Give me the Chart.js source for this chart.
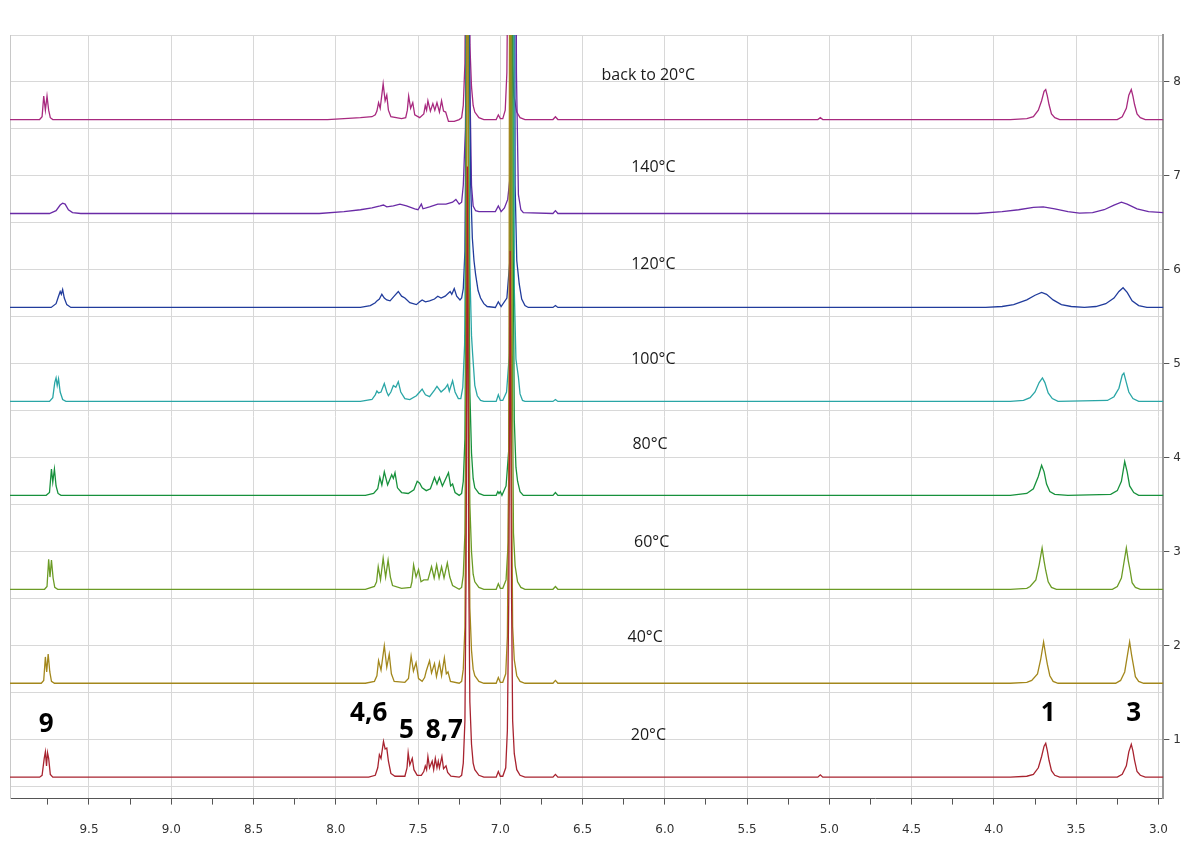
<!DOCTYPE html>
<html>
<head>
<meta charset="utf-8">
<script src="https://cdn.jsdelivr.net/npm/chart.js@4"></script>
<style>
  body { margin: 0; background: #fff; }
</style>
</head>
<body>
<canvas id="nmr" width="1188" height="844"></canvas>
<script>
// spettri 1H NMR a varie temperature: coppie [ppm, intensita sopra la linea di base]
var traceNames = ['20°C', '40°C', '60°C', '80°C', '100°C', '120°C', '140°C', 'back to 20°C'];
var traceColors = ['#a8232f', '#a3871c', '#6b9b25', '#17913c', '#2aa6a6', '#213c9c', '#6a2ba6', '#a8297f'];
var traceOffsets = [0.6, 1.6, 2.6, 3.6, 4.6, 5.6, 6.6, 7.6];

var t20 = [[9.98,0],[9.80,0],[9.785,0.02],[9.772,0.2],[9.765,0.27],[9.758,0.12],[9.752,0.26],[9.745,0.2],[9.735,0.03],[9.72,0],
  [7.80,0],[7.76,0.02],[7.745,0.1],[7.735,0.24],[7.725,0.2],[7.71,0.38],[7.70,0.3],[7.69,0.31],[7.68,0.17],[7.665,0.04],[7.64,0.01],
  [7.58,0.01],[7.567,0.1],[7.56,0.26],[7.55,0.13],[7.535,0.2],[7.525,0.08],[7.505,0.02],[7.48,0.02],[7.465,0.06],[7.456,0.12],[7.448,0.08],
  [7.44,0.22],[7.43,0.1],[7.414,0.17],[7.405,0.08],[7.395,0.2],[7.385,0.1],[7.377,0.17],[7.37,0.1],[7.355,0.22],[7.345,0.09],[7.33,0.12],[7.32,0.05],[7.30,0.01],
  [7.25,0],[7.235,0.02],[7.225,0.15],[7.215,0.6],[7.208,2.2],[7.20,6.5],[7.192,2.2],[7.185,0.8],[7.175,0.35],[7.165,0.15],[7.155,0.08],[7.13,0.02],[7.10,0],
  [7.025,0],[7.012,0.06],[7.0,0.01],[6.985,0.01],[6.967,0.1],[6.957,0.5],[6.948,2.0],[6.94,5.6],[6.932,2.0],[6.925,0.6],[6.915,0.25],[6.90,0.08],[6.88,0.02],[6.85,0],
  [6.68,0],[6.665,0.03],[6.65,0],[5.07,0],[5.055,0.025],[5.04,0],
  [3.90,0],[3.80,0.01],[3.76,0.03],[3.73,0.1],[3.71,0.22],[3.695,0.33],[3.685,0.36],[3.675,0.28],[3.665,0.18],[3.65,0.07],[3.63,0.02],[3.60,0],
  [3.25,0],[3.22,0.03],[3.195,0.12],[3.18,0.27],[3.165,0.35],[3.155,0.28],[3.145,0.18],[3.13,0.06],[3.11,0.02],[3.08,0],[2.97,0]];

var t40 = [[9.98,0],[9.79,0],[9.775,0.03],[9.765,0.28],[9.757,0.12],[9.748,0.31],[9.738,0.12],[9.728,0.02],[9.71,0],
  [7.82,0],[7.765,0.02],[7.75,0.08],[7.74,0.24],[7.725,0.14],[7.705,0.4],[7.69,0.17],[7.675,0.31],[7.662,0.1],[7.645,0.02],[7.58,0.01],
  [7.558,0.05],[7.542,0.29],[7.528,0.13],[7.512,0.22],[7.497,0.05],[7.475,0.02],[7.46,0.06],[7.45,0.13],[7.43,0.24],[7.418,0.11],[7.40,0.21],
  [7.388,0.07],[7.37,0.22],[7.357,0.08],[7.34,0.27],[7.328,0.1],[7.318,0.12],[7.303,0.02],
  [7.25,0],[7.235,0.02],[7.225,0.15],[7.215,0.6],[7.208,2.5],[7.20,12],[7.192,2.5],[7.185,0.8],[7.175,0.35],[7.165,0.15],[7.155,0.08],[7.13,0.02],[7.10,0],
  [7.025,0],[7.012,0.06],[7.0,0.01],[6.985,0.01],[6.967,0.1],[6.957,0.5],[6.948,2.5],[6.94,12],[6.932,2.5],[6.925,0.6],[6.915,0.25],[6.90,0.08],[6.88,0.02],[6.85,0],
  [6.68,0],[6.665,0.03],[6.65,0],
  [3.90,0],[3.80,0.01],[3.77,0.03],[3.735,0.1],[3.715,0.26],[3.698,0.44],[3.685,0.3],[3.675,0.2],[3.66,0.08],[3.64,0.02],[3.61,0],
  [3.26,0],[3.23,0.03],[3.205,0.12],[3.19,0.28],[3.175,0.44],[3.163,0.3],[3.153,0.2],[3.14,0.07],[3.12,0.02],[3.09,0],[2.97,0]];

var t60 = [[9.98,0],[9.77,0],[9.755,0.03],[9.745,0.32],[9.737,0.13],[9.728,0.31],[9.718,0.12],[9.708,0.02],[9.69,0],
  [7.82,0],[7.765,0.03],[7.752,0.08],[7.742,0.24],[7.728,0.1],[7.712,0.33],[7.697,0.13],[7.682,0.31],[7.668,0.13],[7.655,0.04],[7.60,0.01],
  [7.545,0.02],[7.537,0.08],[7.527,0.26],[7.512,0.13],[7.497,0.21],[7.482,0.08],[7.465,0.1],[7.44,0.1],[7.418,0.24],[7.402,0.12],[7.387,0.26],
  [7.372,0.12],[7.357,0.24],[7.342,0.12],[7.322,0.28],[7.307,0.13],[7.29,0.04],
  [7.25,0],[7.235,0.02],[7.225,0.15],[7.215,0.6],[7.208,2.5],[7.20,12],[7.192,2.5],[7.185,0.9],[7.175,0.4],[7.165,0.16],[7.155,0.08],[7.13,0.02],[7.10,0],
  [7.025,0],[7.012,0.06],[7.0,0.01],[6.985,0.01],[6.965,0.1],[6.952,0.5],[6.943,2.5],[6.935,12],[6.927,2.5],[6.92,0.6],[6.91,0.25],[6.895,0.08],[6.875,0.02],[6.85,0],
  [6.68,0],[6.665,0.03],[6.65,0],
  [3.90,0],[3.80,0.01],[3.78,0.03],[3.745,0.1],[3.725,0.26],[3.707,0.44],[3.695,0.3],[3.685,0.2],[3.67,0.08],[3.65,0.02],[3.62,0],
  [3.28,0],[3.25,0.03],[3.225,0.12],[3.21,0.28],[3.195,0.44],[3.183,0.3],[3.172,0.2],[3.16,0.07],[3.14,0.02],[3.11,0],[2.97,0]];

var t80 = [[9.98,0],[9.76,0],[9.74,0.03],[9.728,0.28],[9.72,0.14],[9.71,0.28],[9.70,0.1],[9.688,0.02],[9.67,0],
  [7.82,0],[7.77,0.02],[7.745,0.07],[7.732,0.19],[7.72,0.11],[7.705,0.25],[7.685,0.11],[7.66,0.22],[7.65,0.18],[7.64,0.24],[7.625,0.08],[7.60,0.03],
  [7.56,0.02],[7.525,0.06],[7.505,0.15],[7.49,0.13],[7.475,0.08],[7.45,0.05],[7.425,0.07],[7.40,0.19],[7.385,0.12],[7.37,0.19],[7.352,0.1],
  [7.315,0.24],[7.302,0.1],[7.29,0.12],[7.275,0.03],
  [7.25,0],[7.235,0.02],[7.225,0.15],[7.215,0.6],[7.208,2.5],[7.20,12],[7.192,2.8],[7.185,1.1],[7.175,0.45],[7.165,0.18],[7.155,0.08],[7.13,0.02],[7.10,0],
  [7.025,0],[7.015,0.04],[7.008,0.02],[7.0,0.04],[6.99,0],[6.965,0.1],[6.948,0.5],[6.938,2.5],[6.93,12],[6.922,2.8],[6.915,0.8],[6.905,0.3],[6.895,0.15],[6.88,0.04],[6.86,0],
  [6.68,0],[6.665,0.03],[6.65,0],
  [3.90,0],[3.80,0.02],[3.76,0.07],[3.73,0.2],[3.71,0.32],[3.695,0.25],[3.68,0.12],[3.66,0.04],[3.63,0.01],[3.55,0],
  [3.29,0.01],[3.25,0.05],[3.225,0.15],[3.205,0.36],[3.19,0.25],[3.175,0.1],[3.15,0.03],[3.12,0],[2.97,0]];

var t100 = [[9.98,0],[9.74,0],[9.72,0.04],[9.708,0.2],[9.70,0.25],[9.693,0.17],[9.685,0.24],[9.675,0.1],[9.66,0.02],[9.64,0],
  [7.85,0],[7.78,0.02],[7.76,0.07],[7.75,0.11],[7.74,0.09],[7.725,0.1],[7.705,0.19],[7.69,0.1],[7.68,0.06],[7.665,0.1],[7.65,0.17],[7.635,0.15],
  [7.62,0.21],[7.605,0.1],[7.58,0.03],[7.55,0.02],[7.51,0.06],[7.49,0.1],[7.475,0.13],[7.455,0.07],[7.43,0.05],[7.40,0.12],[7.385,0.16],[7.36,0.1],
  [7.335,0.14],[7.32,0.18],[7.31,0.11],[7.29,0.22],[7.275,0.1],[7.255,0.03],[7.24,0.03],
  [7.228,0.15],[7.217,0.6],[7.208,2.5],[7.20,12],[7.192,3],[7.185,1.4],[7.175,0.7],[7.168,0.5],[7.155,0.17],[7.14,0.06],[7.12,0.01],[7.10,0],
  [7.025,0],[7.012,0.07],[7.0,0.01],[6.985,0.01],[6.962,0.1],[6.945,0.5],[6.934,2.5],[6.925,12],[6.915,1.2],[6.905,0.45],[6.89,0.26],[6.88,0.08],[6.865,0.01],[6.85,0],
  [6.68,0],[6.665,0.02],[6.65,0],
  [3.90,0],[3.82,0.01],[3.78,0.04],[3.75,0.1],[3.725,0.2],[3.705,0.25],[3.69,0.2],[3.67,0.09],[3.645,0.03],[3.61,0],
  [3.31,0.01],[3.27,0.05],[3.24,0.14],[3.22,0.28],[3.21,0.3],[3.195,0.2],[3.18,0.1],[3.155,0.03],[3.12,0],[2.97,0]];

var t120 = [[9.98,0],[9.73,0],[9.70,0.04],[9.685,0.12],[9.675,0.17],[9.668,0.14],[9.66,0.19],[9.65,0.1],[9.635,0.03],[9.61,0],
  [7.85,0],[7.79,0.02],[7.76,0.05],[7.75,0.07],[7.735,0.09],[7.72,0.14],[7.705,0.1],[7.69,0.08],[7.67,0.07],[7.645,0.12],[7.62,0.17],[7.60,0.12],
  [7.58,0.1],[7.55,0.05],[7.51,0.03],[7.49,0.06],[7.475,0.08],[7.455,0.06],[7.43,0.07],[7.40,0.09],[7.38,0.12],[7.36,0.1],[7.335,0.12],[7.305,0.17],
  [7.295,0.14],[7.28,0.2],[7.265,0.12],[7.245,0.08],[7.235,0.1],
  [7.225,0.2],[7.215,0.6],[7.207,2.5],[7.198,12],[7.19,3],[7.18,1.3],[7.17,0.74],[7.16,0.5],[7.15,0.35],[7.135,0.18],[7.12,0.1],[7.10,0.04],[7.08,0.01],
  [7.03,0],[7.012,0.06],[6.995,0.01],[6.96,0.1],[6.942,0.5],[6.93,2.5],[6.92,12],[6.91,1.3],[6.90,0.5],[6.885,0.25],[6.87,0.09],[6.85,0.02],[6.83,0],
  [6.68,0],[6.665,0.02],[6.65,0],
  [4.05,0],[3.95,0.01],[3.88,0.03],[3.80,0.08],[3.75,0.13],[3.71,0.16],[3.68,0.14],[3.64,0.08],[3.59,0.03],[3.53,0.01],[3.45,0],
  [3.38,0.01],[3.32,0.04],[3.27,0.1],[3.24,0.17],[3.215,0.21],[3.19,0.16],[3.16,0.07],[3.12,0.02],[3.07,0],[2.97,0]];

var t140 = [[9.98,0],[9.74,0],[9.70,0.03],[9.675,0.09],[9.66,0.11],[9.645,0.1],[9.625,0.04],[9.60,0.01],[9.55,0],
  [8.10,0],[7.95,0.02],[7.85,0.04],[7.78,0.06],[7.73,0.08],[7.71,0.09],[7.69,0.07],[7.65,0.08],[7.61,0.1],[7.57,0.08],[7.52,0.05],[7.50,0.04],
  [7.48,0.1],[7.47,0.05],[7.43,0.07],[7.38,0.1],[7.33,0.1],[7.29,0.12],[7.27,0.15],[7.25,0.1],[7.235,0.12],
  [7.225,0.3],[7.212,0.9],[7.204,2.5],[7.195,12],[7.186,1.5],[7.175,0.3],[7.165,0.08],[7.15,0.03],[7.13,0.02],
  [7.03,0.02],[7.012,0.08],[6.995,0.02],[6.975,0.06],[6.955,0.15],[6.94,0.4],[6.928,1.5],[6.915,12],[6.902,1.5],[6.89,0.2],[6.875,0.04],[6.86,0.01],
  [6.68,0],[6.665,0.03],[6.65,0],
  [4.10,0],[3.95,0.02],[3.85,0.04],[3.76,0.065],[3.70,0.07],[3.63,0.05],[3.55,0.02],[3.48,0.005],
  [3.40,0.01],[3.33,0.04],[3.27,0.09],[3.225,0.12],[3.19,0.1],[3.13,0.05],[3.06,0.02],[2.97,0.01]];

var tBack = [[9.98,0],[9.80,0],[9.785,0.03],[9.775,0.25],[9.765,0.1],[9.755,0.25],[9.745,0.1],[9.735,0.02],[9.72,0],
  [8.05,0],[7.95,0.01],[7.85,0.02],[7.78,0.03],[7.76,0.05],[7.75,0.09],[7.74,0.18],[7.73,0.12],[7.712,0.38],[7.70,0.2],[7.69,0.26],[7.68,0.1],
  [7.665,0.03],[7.60,0.01],[7.575,0.02],[7.565,0.1],[7.557,0.25],[7.545,0.12],[7.532,0.18],[7.52,0.05],[7.49,0.02],[7.465,0.06],[7.456,0.15],
  [7.448,0.1],[7.44,0.2],[7.425,0.09],[7.41,0.17],[7.398,0.1],[7.385,0.18],[7.37,0.08],[7.357,0.2],[7.345,0.09],[7.332,0.08],[7.315,-0.02],[7.28,-0.02],
  [7.25,0],[7.235,0.02],[7.225,0.15],[7.215,0.6],[7.208,2.5],[7.20,12],[7.192,2.5],[7.185,0.8],[7.175,0.35],[7.165,0.15],[7.155,0.08],[7.13,0.02],[7.10,0],
  [7.025,0],[7.012,0.05],[7.0,0.01],[6.985,0.01],[6.97,0.1],[6.96,0.5],[6.95,2.5],[6.942,12],[6.934,2.5],[6.927,0.6],[6.917,0.25],[6.90,0.08],[6.88,0.02],[6.85,0],
  [6.68,0],[6.665,0.03],[6.65,0],[5.07,0],[5.055,0.02],[5.04,0],
  [3.90,0],[3.80,0.01],[3.76,0.03],[3.73,0.1],[3.71,0.2],[3.695,0.3],[3.685,0.32],[3.675,0.25],[3.665,0.16],[3.65,0.06],[3.63,0.02],[3.60,0],
  [3.25,0],[3.22,0.03],[3.195,0.12],[3.18,0.26],[3.165,0.32],[3.155,0.25],[3.145,0.16],[3.13,0.06],[3.11,0.02],[3.08,0],[2.97,0]];

var traces = [t20, t40, t60, t80, t100, t120, t140, tBack];

// etichette delle temperature (ppm, livello asse destro)
var nameX = [6.10, 6.12, 6.08, 6.09, 6.07, 6.07, 6.07, 6.10];
var nameY = [1.04, 2.09, 3.10, 4.14, 5.05, 6.06, 7.09, 8.07];

// numeri dei protoni
var peakTags = ['9', '4,6', '5', '8,7', '1', '3'];
var peakTagX = [9.76, 7.80, 7.57, 7.34, 3.67, 3.15];
var peakTagY = [1.16, 1.28, 1.10, 1.10, 1.28, 1.28];

var datasets = traces.map(function(tr, i) {
  return {
    label: traceNames[i],
    data: tr.map(function(p) { return {x: p[0], y: p[1] + traceOffsets[i]}; }),
    borderColor: traceColors[i],
    borderWidth: 1.3,
    pointRadius: 0,
    tension: 0,
    fill: false
  };
});

var textPlugin = {
  id: 'nmrText',
  afterDatasetsDraw: function(chart) {
    var ctx = chart.ctx, xs = chart.scales.x, ys = chart.scales.y;
    ctx.save();
    ctx.textAlign = 'center';
    ctx.textBaseline = 'middle';
    ctx.fillStyle = '#1a1a1a';
    ctx.font = '16px "Open Sans"';
    traceNames.forEach(function(t, i) {
      ctx.fillText(t, xs.getPixelForValue(nameX[i]), ys.getPixelForValue(nameY[i]));
    });
    ctx.fillStyle = '#000';
    ctx.font = 'bold 26px "Open Sans"';
    peakTags.forEach(function(t, i) {
      ctx.fillText(t, xs.getPixelForValue(peakTagX[i]), ys.getPixelForValue(peakTagY[i]));
    });
    ctx.restore();
  }
};

new Chart(document.getElementById('nmr'), {
  type: 'line',
  data: { datasets: datasets },
  plugins: [textPlugin],
  options: {
    responsive: false,
    animation: false,
    devicePixelRatio: 1,
    layout: { padding: { left: 10, top: 35, right: 3, bottom: -11 } },
    plugins: { legend: { display: false }, tooltip: { enabled: false } },
    scales: {
      x: {
        type: 'linear',
        reverse: true,
        min: 2.97,
        max: 9.98,
        grid: {
          color: function(c) { return Math.round(c.tick.value * 4) % 2 === 0 ? '#d8d8d8' : 'rgba(0,0,0,0)'; },
          tickColor: '#555',
          tickLength: 6
        },
        border: { color: '#555', width: 1 },
        ticks: {
          stepSize: 0.25,
          includeBounds: false,
          autoSkip: false,
          maxRotation: 0,
          padding: 18,
          color: '#333',
          font: { family: 'DejaVu Sans', size: 12 },
          callback: function(v) { return Math.round(v * 4) % 2 === 0 ? v.toFixed(1) : ''; }
        }
      },
      y: {
        type: 'linear',
        position: 'right',
        min: 0.372,
        max: 8.5,
        grid: {
          color: '#d8d8d8',
          tickColor: function(c) { return Number.isInteger(c.tick.value) ? '#555' : 'rgba(0,0,0,0)'; },
          tickLength: 6
        },
        border: { color: '#999', width: 2 },
        ticks: {
          stepSize: 0.5,
          includeBounds: false,
          autoSkip: false,
          padding: 4,
          color: '#333',
          font: { family: 'DejaVu Sans', size: 12 },
          callback: function(v) { return Number.isInteger(v) ? String(v) : ''; }
        }
      },
      yl: {
        type: 'linear',
        position: 'left',
        min: 0.372,
        max: 8.5,
        grid: { drawOnChartArea: false, drawTicks: false },
        border: { color: '#c8c8c8', width: 1 },
        ticks: { display: false }
      }
    }
  }
});
</script>
</body>
</html>
